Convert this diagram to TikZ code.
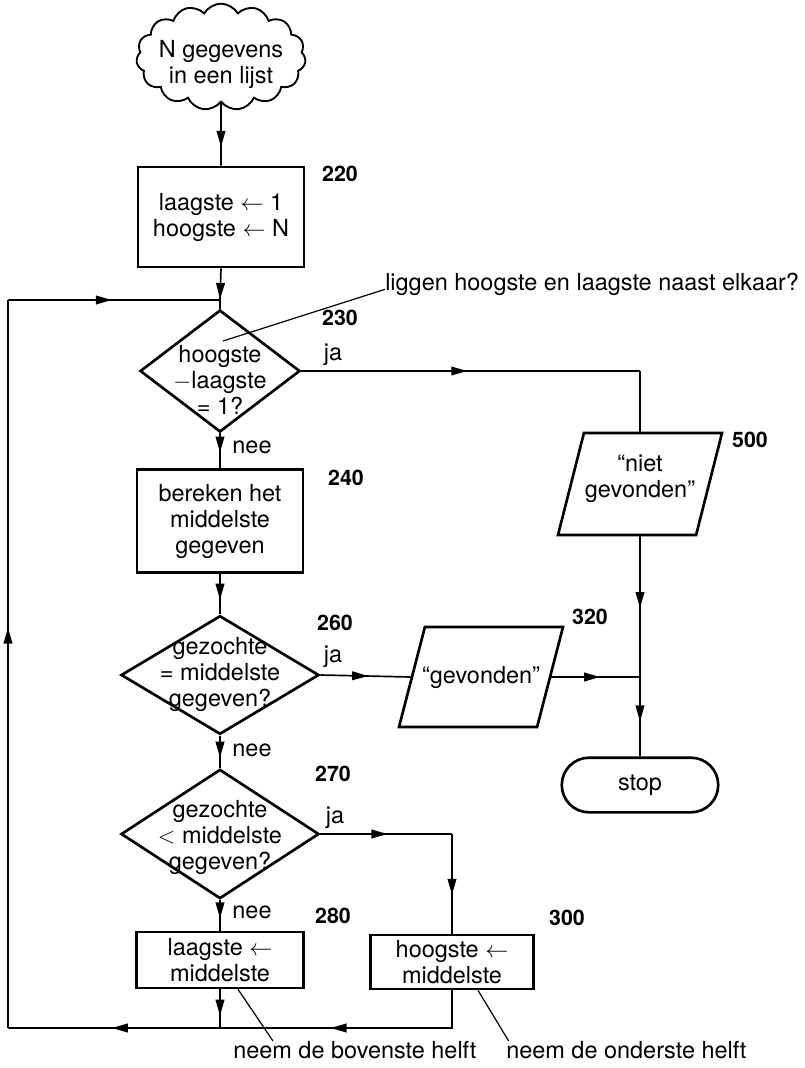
\documentclass[tikz,border=0pt]{standalone}
\usepackage{fontspec}
\setmainfont{TeX Gyre Heros}
\usetikzlibrary{shapes.geometric}
\usetikzlibrary{shapes.symbols}
\usetikzlibrary{shapes.misc}
\usetikzlibrary{arrows.meta}
\usetikzlibrary{decorations.markings}

\tikzset{
  box/.style={draw, line width=2pt, rectangle, align=center, inner sep=2pt},
  dec/.style={draw, line width=2pt, diamond, inner sep=0pt},
  io/.style={draw, line width=2pt, trapezium, trapezium left angle=77,
    trapezium right angle=103, trapezium stretches=true, inner sep=1pt},
  flow/.style={line width=1.25pt},
  midtip/.style={postaction={decorate}, decoration={markings,
    mark=at position #1 with {\arrow{Triangle[length=12pt,width=6.5pt]}}}},
  leader/.style={line width=0.9pt},
  num/.style={font=\fontsize{16}{16}\selectfont\bfseries}
}

\begin{document}
\begin{tikzpicture}[x=0.75pt, y=-0.75pt, font=\fontsize{17.6}{19.5}\selectfont]
\useasboundingbox (0,0) rectangle (805,1068);

\node[draw, cloud, cloud puffs=15, cloud puff arc=120, line width=1.4pt,
  minimum width=127pt, minimum height=80pt, inner sep=0pt] (start) at (221,57) {};
\node[align=center] at (221,64) {N gegevens\\in een lijst};

\node[box, minimum width=124.5pt, minimum height=75pt] (b220) at (221,217)
  {laagste $\leftarrow$ 1\\hoogste $\leftarrow$ N};
\node[num] at (340,174) {220};

\coordinate (j1) at (220,300);
\node[dec, minimum width=120pt, minimum height=91.5pt] (d230) at (220,371) {};
\node[align=center] at (220,380) {hoogste\\$-$laagste\\= 1?};
\node[num] at (340,318) {230};
\node at (333,355) {ja};
\node at (252,447) {nee};
\coordinate (a230) at (223,341);
\node[anchor=west, inner sep=0pt] (note230) at (385,284) {liggen hoogste en laagste naast elkaar?};

\node[box, minimum width=124.5pt, minimum height=77pt] (b240) at (220,521)
  {bereken het\\middelste\\gegeven};
\node[num] at (346,478) {240};

\node[dec, minimum width=148.5pt, minimum height=89pt] (d260) at (220,675) {};
\node[align=center] at (220,674) {gezochte\\= middelste\\gegeven?};
\node[num] at (335,623) {260};
\node at (333,657) {ja};
\node at (252,750) {nee};

\node[io, minimum width=123pt, minimum height=75pt] (p320) at (481,677) {};
\node at (481,677) {``gevonden''};
\node[num] at (590,617) {320};

\node[io, minimum width=123pt, minimum height=76.5pt] (p500) at (640,484) {};
\node[align=center] at (640,479) {``niet\\gevonden''};
\node[num] at (750,440) {500};

\coordinate (c500) at (640,371);
\coordinate (j2) at (640,677);
\node[draw, rounded rectangle, line width=2pt, minimum width=124pt,
  minimum height=41pt] (stop) at (640,785) {stop};

\node[dec, minimum width=148.5pt, minimum height=97pt] (d270) at (220,834) {};
\node[align=center] at (220,837) {gezochte\\$<$ middelste\\gegeven?};
\node[num] at (333,774) {270};
\node at (335,818) {ja};
\node at (252,912) {nee};
\coordinate (c300) at (452,834);

\node[box, minimum width=125pt, minimum height=42pt] (b280) at (220,960)
  {laagste $\leftarrow$\\middelste};
\node[num] at (333,916) {280};
\node[box, minimum width=122pt, minimum height=40.5pt] (b300) at (452,962)
  {hoogste $\leftarrow$\\middelste};
\node[num] at (567,918) {300};

\coordinate (jb) at (220,1028);
\coordinate (lb) at (8,1028);
\coordinate (lt) at (8,300);

\node[anchor=west, inner sep=0pt] (note280) at (233,1050) {neem de bovenste helft};
\node[anchor=west, inner sep=0pt] (note300) at (506,1050) {neem de onderste helft};

\draw[flow, midtip=.7] (start.south) -- (b220.north);
\draw[flow, midtip=.97] (b220.south) -- (j1);
\draw[flow] (j1) -- (d230.north);
\draw[flow, midtip=.49] (d230.east) -- (c500);
\draw[flow] (c500) -- (p500.north);
\draw[flow, midtip=.55] (d230.south) -- (b240.north);
\draw[flow, midtip=.64] (b240.south) -- (d260.north);
\draw[flow, midtip=.53] (d260.east) -- (p320.west);
\draw[flow, midtip=.55] (p320.east) -- (j2);
\draw[flow, midtip=.51] (p500.south) -- (j2);
\draw[flow, midtip=.56] (j2) -- (stop.north);
\draw[flow, midtip=.68] (d260.south) -- (d270.north);
\draw[flow, midtip=.51] (d270.east) -- (c300);
\draw[flow, midtip=.61] (c300) -- (b300.north);
\draw[flow, midtip=.6] (d270.south) -- (b280.north);
\draw[flow, midtip=.68] (b280.south) -- (jb);
\draw[flow, midtip=.59] (b300.south) |- (jb);
\draw[flow, midtip=.51] (jb) -- (lb);
\draw[flow, midtip=.55] (lb) -- (lt);
\draw[flow, midtip=.49] (lt) -- (j1);

\draw[leader] (a230) -- ([yshift=-4pt]note230.west);
\draw[leader] ([xshift=13.5pt]b280.south) -- ([xshift=30pt]note280.north west);
\draw[leader] ([xshift=19.5pt]b300.south) -- ([xshift=2pt]note300.north west);
\end{tikzpicture}
\end{document}
